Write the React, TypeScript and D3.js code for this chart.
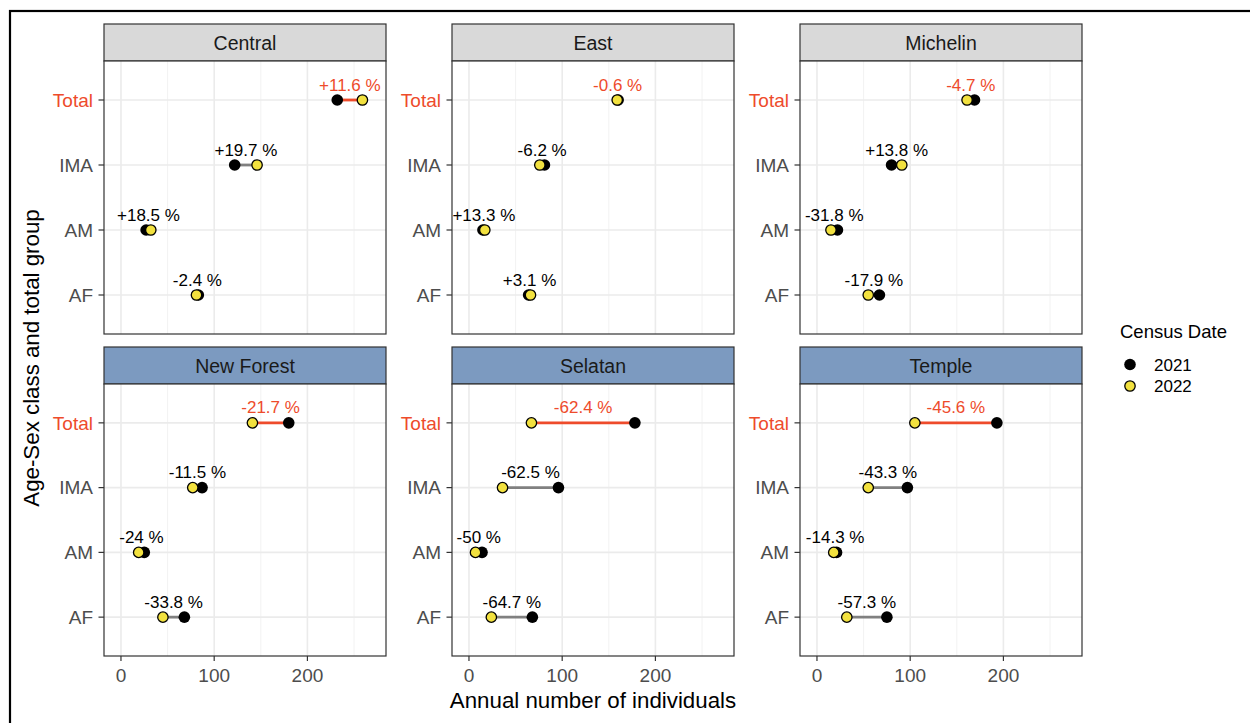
import React from "react";
import { scaleLinear, scalePoint } from "d3";

// sites (facets), in reading order
const sites = ["Central", "East", "Michelin", "New Forest", "Selatan", "Temple"];
const groups = ["Total", "IMA", "AM", "AF"];
const years = ["2021", "2022"];

// annual number of individuals, per site, in the order of `groups`
const count2021 = [
  [232, 122, 27, 83],
  [160, 81, 15, 64],
  [169, 80, 22, 67],
  [180, 87, 25, 68],
  [178, 96, 14, 68],
  [193, 97, 21, 75],
];
const count2022 = [
  [259, 146, 32, 81],
  [159, 76, 17, 66],
  [161, 91, 15, 55],
  [141, 77, 19, 45],
  [67, 36, 7, 24],
  [105, 55, 18, 32],
];
const changeLabels = [
  ["+11.6 %", "+19.7 %", "+18.5 %", "-2.4 %"],
  ["-0.6 %", "-6.2 %", "+13.3 %", "+3.1 %"],
  ["-4.7 %", "+13.8 %", "-31.8 %", "-17.9 %"],
  ["-21.7 %", "-11.5 %", "-24 %", "-33.8 %"],
  ["-62.4 %", "-62.5 %", "-50 %", "-64.7 %"],
  ["-45.6 %", "-43.3 %", "-14.3 %", "-57.3 %"],
];
const xTicks = [0, 100, 200];
const xMinor = [50, 150, 250];

const FONT = "'Liberation Sans', Arial, Helvetica, sans-serif";
const RED = "#EE4B2B";
const YELLOW = "#F2E13F";
const STRIP_TOP = "#D9D9D9";
const STRIP_BOTTOM = "#7C9AC0";

const panelW = 282;
const colX = [104, 452, 800];
const rows = [
  { stripTop: 24, bodyTop: 61, bodyBottom: 334 },
  { stripTop: 347, bodyTop: 384, bodyBottom: 656 },
];

const x = scaleLinear().domain([-18.2, 284.3]).range([0, panelW]);

function Panel({ i }: { i: number }) {
  const row = rows[Math.floor(i / 3)];
  const left = colX[i % 3];
  const h = row.bodyBottom - row.bodyTop;
  const y = scalePoint<string>().domain(groups).range([0, h]).padding(0.6);
  const isBottom = i >= 3;

  return (
    <g>
      {/* strip */}
      <rect
        x={left}
        y={row.stripTop}
        width={panelW}
        height={row.bodyTop - row.stripTop}
        fill={isBottom ? STRIP_BOTTOM : STRIP_TOP}
        stroke="#333"
        strokeWidth={1.2}
      />
      <text
        x={left + panelW / 2}
        y={(row.stripTop + row.bodyTop) / 2}
        dy="0.36em"
        textAnchor="middle"
        fontSize={19.5}
        fill="#1a1a1a"
      >
        {sites[i]}
      </text>

      <g transform={`translate(${left},${row.bodyTop})`}>
        <rect width={panelW} height={h} fill="#fff" />
        {xMinor.map((t) => (
          <line key={"m" + t} x1={x(t)} x2={x(t)} y1={0} y2={h} stroke="#F2F2F2" strokeWidth={1} />
        ))}
        {xTicks.map((t) => (
          <line key={"g" + t} x1={x(t)} x2={x(t)} y1={0} y2={h} stroke="#EBEBEB" strokeWidth={1.6} />
        ))}
        {groups.map((g) => (
          <line key={"h" + g} x1={0} x2={panelW} y1={y(g)} y2={y(g)} stroke="#EBEBEB" strokeWidth={1.6} />
        ))}

        {groups.map((g, j) => {
          const a = count2021[i][j];
          const b = count2022[i][j];
          const cy = y(g) as number;
          const total = g === "Total";
          return (
            <g key={g}>
              <line
                x1={x(a)}
                x2={x(b)}
                y1={cy}
                y2={cy}
                stroke={total ? RED : "#808080"}
                strokeWidth={2.8}
              />
              <circle cx={x(a)} cy={cy} r={5.8} fill="#000" />
              <circle cx={x(b)} cy={cy} r={5.2} fill={YELLOW} stroke="#000" strokeWidth={1.3} />
              <text
                x={(x(a) + x(b)) / 2}
                y={cy - 9.5}
                textAnchor="middle"
                fontSize={17}
                fill={total ? RED : "#000"}
              >
                {changeLabels[i][j]}
              </text>
            </g>
          );
        })}

        <rect width={panelW} height={h} fill="none" stroke="#333" strokeWidth={1.2} />

        {/* y axis, every panel */}
        {groups.map((g) => (
          <g key={"yt" + g} transform={`translate(0,${y(g)})`}>
            <line x1={-5.5} x2={0} stroke="#333" strokeWidth={1.2} />
            <text
              x={-11}
              dy="0.36em"
              textAnchor="end"
              fontSize={19}
              fill={g === "Total" ? RED : "#4D4D4D"}
            >
              {g}
            </text>
          </g>
        ))}

        {/* x axis on bottom row */}
        {isBottom &&
          xTicks.map((t) => (
            <g key={"xt" + t} transform={`translate(${x(t)},${h})`}>
              <line y1={0} y2={5} stroke="#333" strokeWidth={1.2} />
              <text y={26} textAnchor="middle" fontSize={19} fill="#4D4D4D">
                {t}
              </text>
            </g>
          ))}
      </g>
    </g>
  );
}

export default function App() {
  return (
    <svg
      width={1250}
      height={723}
      style={{ position: "absolute", left: 0, top: 0, display: "block", background: "#fff" }}
      fontFamily={FONT}
    >
      <rect x={0} y={0} width={1250} height={723} fill="#fff" />
      <rect x={10} y={11} width={1260} height={740} fill="none" stroke="#000" strokeWidth={2.2} />

      {sites.map((s, i) => (
        <Panel key={s} i={i} />
      ))}

      <text x={593} y={708} textAnchor="middle" fontSize={22.3} fill="#000">
        Annual number of individuals
      </text>
      <text
        transform="translate(39,358) rotate(-90)"
        textAnchor="middle"
        fontSize={22.3}
        fill="#000"
      >
        Age-Sex class and total group
      </text>

      {/* legend */}
      <text x={1120} y={338} fontSize={18.5} fill="#000">
        Census Date
      </text>
      {years.map((yr, k) => (
        <g key={yr} transform={`translate(1130,${364.5 + k * 21.5})`}>
          {k === 0 ? (
            <circle r={5.8} fill="#000" />
          ) : (
            <circle r={5.2} fill={YELLOW} stroke="#000" strokeWidth={1.3} />
          )}
          <text x={24} dy="0.36em" fontSize={17} fill="#000">
            {yr}
          </text>
        </g>
      ))}
    </svg>
  );
}
